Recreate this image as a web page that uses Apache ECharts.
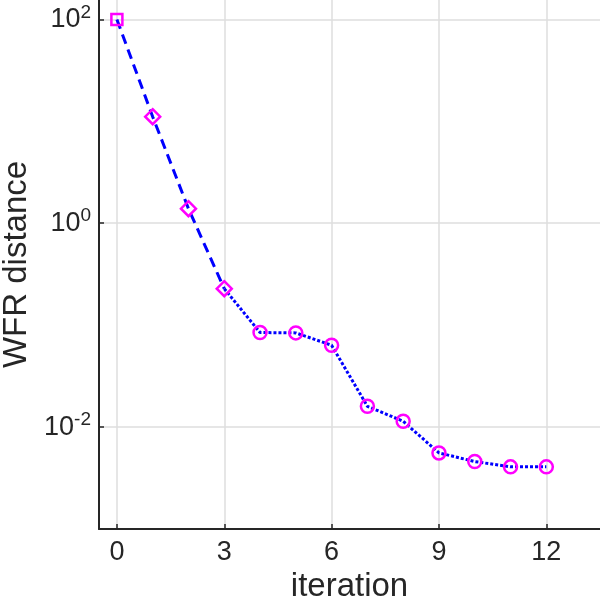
<!DOCTYPE html>
<html>
<head>
<meta charset="utf-8">
<script src="https://cdn.jsdelivr.net/npm/echarts@6/dist/echarts.min.js"></script>
<style>
  html, body { margin: 0; padding: 0; background: #fff; }
  #chart { width: 600px; height: 600px; }
</style>
</head>
<body>
<div id="chart"></div>
<script>
// data
var iterations = [0, 1, 2, 3, 4, 5, 6, 7, 8, 9, 10, 11, 12]
var wfrDistance = [100, 11.1, 1.39, 0.228, 0.0847, 0.084, 0.0635, 0.016, 0.0114, 0.00558, 0.00459, 0.00407, 0.00407]
var markerShapes = ['rect', 'diamond', 'diamond', 'diamond', 'circle', 'circle', 'circle', 'circle', 'circle', 'circle', 'circle', 'circle', 'circle']
var xTicks = [0, 3, 6, 9, 12]
var yTicks = [0.01, 1, 100]
var dashedEnd = 3 // dashed line up to iteration 3, dotted afterwards

var font = '"Liberation Sans", Helvetica, Arial, sans-serif'

function pointsFor(from, to, skipFirstMarker) {
  var out = []
  for (var i = from; i <= to; i++) {
    var sym = markerShapes[i]
    if (skipFirstMarker && i === from) sym = 'none'
    out.push({
      value: [iterations[i], wfrDistance[i]],
      symbol: sym,
      symbolSize: sym === 'diamond' ? 15 : (sym === 'rect' ? 11 : 13)
    })
  }
  return out
}

var myChart = echarts.init(document.getElementById('chart'))
var markerStyle = { color: 'rgba(0,0,0,0)', borderColor: '#ff00ff', borderWidth: 2.5 }

var option = {
  animation: false,
  grid: { left: 99, right: 0, top: 0, bottom: 71, containLabel: false, outerBoundsMode: 'none' },
  xAxis: {
    type: 'value',
    min: -0.5,
    max: 13.5,
    name: 'iteration',
    nameLocation: 'middle',
    nameGap: 32,
    nameTextStyle: { fontFamily: font, fontSize: 33, color: '#262626' },
    axisLine: { show: true, onZero: false, lineStyle: { color: '#262626', width: 2 } },
    axisTick: { show: true, inside: true, length: 5, customValues: xTicks, lineStyle: { color: '#262626', width: 1.5 } },
    axisLabel: { customValues: xTicks, fontFamily: font, fontSize: 27, color: '#262626', margin: 10 },
    splitLine: { show: true, lineStyle: { color: '#dedede', width: 1.5 } }
  },
  yAxis: {
    type: 'log',
    logBase: 10,
    min: 0.001,
    max: 155,
    name: 'WFR distance',
    nameLocation: 'middle',
    nameGap: 63,
    nameTextStyle: { fontFamily: font, fontSize: 33, color: '#262626' },
    axisLine: { show: true, onZero: false, lineStyle: { color: '#262626', width: 2 } },
    axisTick: { show: true, inside: true, length: 5, customValues: yTicks, lineStyle: { color: '#262626', width: 1.5 } },
    axisLabel: {
      customValues: yTicks,
      margin: 8,
      formatter: function (v) {
        var e = Math.round(Math.log10(v))
        return '{b|10}{s|' + e + '}'
      },
      rich: {
        b: { fontFamily: font, fontSize: 27, color: '#262626' },
        s: { fontFamily: font, fontSize: 19, color: '#262626', verticalAlign: 'top', padding: [0, 0, 14, 0] }
      }
    },
    splitLine: { show: true, lineStyle: { color: '#dedede', width: 1.5 } }
  },
  series: [
    {
      type: 'line',
      data: pointsFor(0, dashedEnd, false),
      lineStyle: { color: '#0000ff', width: 3, type: [10, 6] },
      itemStyle: markerStyle,
      z: 3
    },
    {
      type: 'line',
      data: pointsFor(dashedEnd, iterations.length - 1, true),
      lineStyle: { color: '#0000ff', width: 3, type: [3, 2] },
      itemStyle: markerStyle,
      z: 2
    }
  ]
}
myChart.setOption(option)
window.addEventListener('resize', function () {
  myChart.resize()
})
</script>
</body>
</html>
